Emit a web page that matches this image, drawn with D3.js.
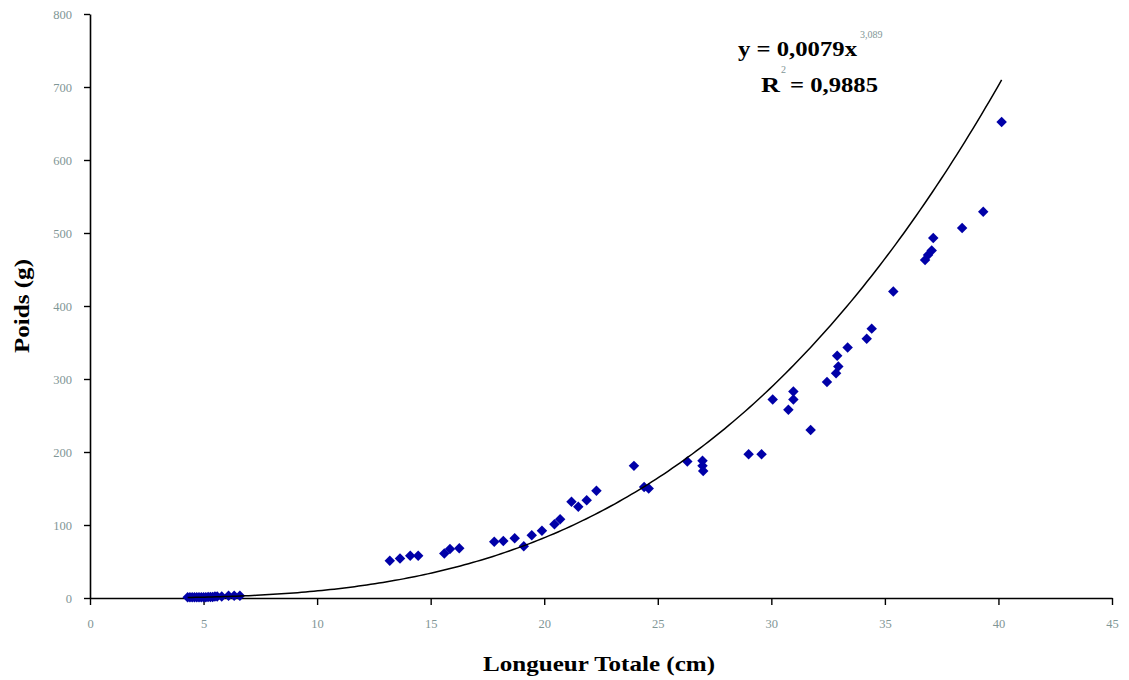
<!DOCTYPE html>
<html>
<head>
<meta charset="utf-8">
<script src="https://cdn.jsdelivr.net/npm/d3@7"></script>
<style>
    body { margin: 0; background: #ffffff; }
    #chart_svg { display: block; }
</style>
</head>
<body>
<svg id="chart_svg" width="1129" height="680"></svg>
<script>
// Data Variables
// Longueur totale (cm) of each fish
var lengths = [
    4.3, 4.4, 4.5, 4.6, 4.7, 4.8, 4.9, 5.0, 5.1, 5.2, 5.3, 5.4, 5.5, 5.6, 5.8, 6.1, 6.35, 6.6,
    13.2, 13.65, 14.1, 14.45, 15.6, 15.85, 16.26, 17.8, 18.2, 18.7, 19.1, 19.45, 19.9,
    20.45, 20.7, 21.2, 21.5, 21.87, 22.3, 23.95, 24.4, 24.6, 26.3, 26.97, 26.97, 27.0,
    29.0, 29.57, 30.06, 30.97, 30.97, 30.75, 31.73, 32.45, 32.85, 32.95, 32.9, 33.36,
    34.2, 34.42, 35.37, 36.77, 36.9, 37.06, 37.13, 38.4, 39.33, 40.14
];
// Poids (g) of each fish
var weights = [
    1, 1, 1, 1, 1, 1, 1, 1, 1, 1.5, 1.5, 1.5, 2, 2, 2, 3, 3, 3,
    51, 54, 58, 58, 61, 67, 68, 77, 78, 82, 71, 86, 92,
    101, 108, 132, 125, 134, 147, 181, 152, 150, 187, 188, 181, 174,
    197, 197, 272, 283, 272, 258, 230, 296, 308, 317, 332, 343,
    355, 369, 420, 463, 470, 476, 493, 507, 529, 652
];

// Axis ticks
var xTicks = [0, 5, 10, 15, 20, 25, 30, 35, 40, 45];
var yTicks = [0, 100, 200, 300, 400, 500, 600, 700, 800];

// Power trendline y = a * x^b
var trend_a = 0.0079;
var trend_b = 3.089;
var trend_r2 = "0,9885";

var chart_svg;

document.addEventListener("DOMContentLoaded", function() {
    chart_svg = d3.select("#chart_svg");

    const margin = {left: 90, right: 17, top: 14, bottom: 82};
    const width = 1129;
    const height = 680;

    // Scales
    const xScale = d3.scaleLinear()
        .domain([0, 45])
        .range([margin.left, width - margin.right]);

    const yScale = d3.scaleLinear()
        .domain([0, 800])
        .range([height - margin.bottom, margin.top]);

    const tickColor = "#7f9696";

    // X axis
    const xAxis = chart_svg.append("g")
        .attr("transform", `translate(0, ${yScale(0)})`)
        .call(d3.axisBottom(xScale).tickValues(xTicks).tickSize(7).tickPadding(14).tickSizeOuter(0));

    // Y axis
    const yAxis = chart_svg.append("g")
        .attr("transform", `translate(${xScale(0)}, 0)`)
        .call(d3.axisLeft(yScale).tickValues(yTicks).tickSize(6).tickPadding(12).tickSizeOuter(0));

    [xAxis, yAxis].forEach(function(ax) {
        ax.select(".domain").attr("stroke", "#000").attr("stroke-width", 1.6);
        ax.selectAll(".tick line").attr("stroke", "#000").attr("stroke-width", 1.4);
        ax.selectAll(".tick text")
            .style("font-family", "'Liberation Serif', 'DejaVu Serif', serif")
            .style("font-size", "12.5px")
            .attr("fill", tickColor);
    });

    // Trendline
    const xMin = d3.min(lengths);
    const xMax = d3.max(lengths);
    const curvePts = d3.range(0, 201).map(function(i) {
        const x = xMin + (xMax - xMin) * i / 200;
        return [x, trend_a * Math.pow(x, trend_b)];
    });

    // Points
    const pointData = lengths.map(function(d, i) { return {len: d, poids: weights[i]}; });

    chart_svg.append("g")
        .selectAll("path")
        .data(pointData)
        .enter()
        .append("path")
            .attr("transform", function(d) { return `translate(${xScale(d.len)}, ${yScale(d.poids)})`; })
            .attr("d", d3.symbol().type(d3.symbolDiamond2).size(70))
            .attr("fill", "#0000a8");

    chart_svg.append("path")
        .datum(curvePts)
        .attr("fill", "none")
        .attr("stroke", "#000")
        .attr("stroke-width", 1.5)
        .attr("d", d3.line()
            .x(function(d) { return xScale(d[0]); })
            .y(function(d) { return yScale(d[1]); })
        );

    const serif = "'Liberation Serif', 'Times New Roman', serif";

    // Axis titles
    chart_svg.append("text")
        .attr("x", 599)
        .attr("y", 671)
        .attr("text-anchor", "middle")
        .attr("textLength", 232)
        .attr("lengthAdjust", "spacingAndGlyphs")
        .style("font-family", serif)
        .style("font-weight", "bold")
        .style("font-size", "22px")
        .text("Longueur Totale (cm)");

    chart_svg.append("text")
        .attr("transform", "translate(29, 306) rotate(-90)")
        .attr("text-anchor", "middle")
        .attr("textLength", 94)
        .attr("lengthAdjust", "spacingAndGlyphs")
        .style("font-family", serif)
        .style("font-weight", "bold")
        .style("font-size", "21px")
        .text("Poids (g)");

    // Equation
    function boldText(x, y, len, str) {
        return chart_svg.append("text")
            .attr("x", x)
            .attr("y", y)
            .attr("textLength", len)
            .attr("lengthAdjust", "spacingAndGlyphs")
            .style("font-family", serif)
            .style("font-weight", "bold")
            .style("font-size", "21px")
            .text(str);
    }
    function supText(x, y, str) {
        return chart_svg.append("text")
            .attr("x", x)
            .attr("y", y)
            .style("font-family", serif)
            .style("font-size", "10px")
            .attr("fill", tickColor)
            .text(str);
    }

    boldText(738, 56, 119, "y = 0,0079x");
    supText(860, 38, "3,089");
    boldText(761, 92, 19, "R");
    supText(781, 73, "2");
    boldText(790, 92, 88, "= " + trend_r2);
});
</script>
</body>
</html>
